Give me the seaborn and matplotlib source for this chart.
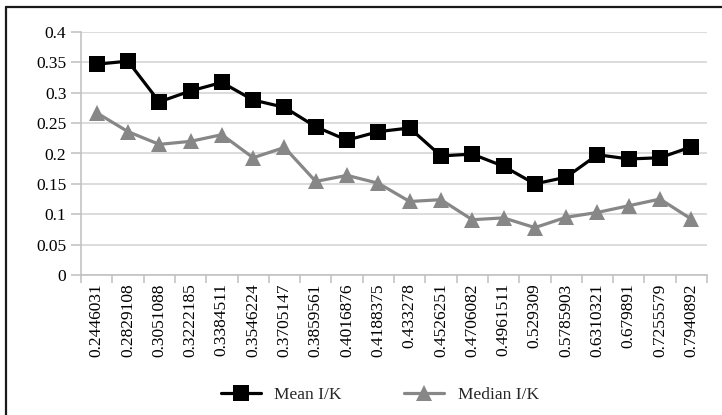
import matplotlib
matplotlib.use("Agg")
import matplotlib.pyplot as plt
from matplotlib.lines import Line2D
import numpy as np
import pandas as pd
import seaborn as sns

# I/K ratio buckets and the two summary series
ratios = ["0.2446031", "0.2829108", "0.3051088", "0.3222185", "0.3384511",
          "0.3546224", "0.3705147", "0.3859561", "0.4016876", "0.4188375",
          "0.433278", "0.4526251", "0.4706082", "0.4961511", "0.529309",
          "0.5785903", "0.6310321", "0.679891", "0.7255579", "0.7940892"]
mean_ik = [0.347, 0.352, 0.285, 0.303, 0.317, 0.288, 0.276, 0.244, 0.222, 0.236,
           0.242, 0.196, 0.199, 0.179, 0.150, 0.161, 0.198, 0.191, 0.193, 0.211]
median_ik = [0.267, 0.236, 0.215, 0.220, 0.231, 0.193, 0.210, 0.154, 0.164, 0.151,
             0.121, 0.124, 0.091, 0.094, 0.078, 0.095, 0.103, 0.114, 0.125, 0.092]
y_ticks = [0, 0.05, 0.1, 0.15, 0.2, 0.25, 0.3, 0.35, 0.4]
y_tick_labels = ["0", "0.05", "0.1", "0.15", "0.2", "0.25", "0.3", "0.35", "0.4"]

sns.set_theme(style="white")
plt.rcParams["font.family"] = ["Liberation Serif", "DejaVu Serif"]

df_mean = pd.DataFrame({"ratio": ratios, "value": mean_ik})
df_median = pd.DataFrame({"ratio": ratios, "value": median_ik})

W, H = 722, 415
fig = plt.figure(figsize=(W / 100, H / 100), dpi=100)
ax = fig.add_axes([81 / W, 1 - 275 / H, 626 / W, 243 / H])

mean_color = "#000000"
median_color = "#878787"
tri_size = 11.5
sq_size = 12

sns.lineplot(data=df_median, x="ratio", y="value", ax=ax, color=median_color,
             marker="^", markersize=tri_size, markeredgecolor=median_color,
             markeredgewidth=0, linewidth=2.3, sort=False)
sns.lineplot(data=df_mean, x="ratio", y="value", ax=ax, color=mean_color,
             marker="s", markersize=sq_size, markeredgecolor=mean_color,
             markeredgewidth=0, linewidth=2.3, sort=False)

ax.set_xlim(-0.5, len(ratios) - 0.5)
ax.set_ylim(0, 0.4)
ax.set_yticks(y_ticks)
ax.set_yticklabels(y_tick_labels)
ax.set_xlabel("")
ax.set_ylabel("")

grid_color = "#d9d9d9"
axis_color = "#bfbfbf"
ax.yaxis.grid(True, color=grid_color, linewidth=1.3)
ax.xaxis.grid(False)
ax.set_axisbelow(True)
for side in ("top", "right"):
    ax.spines[side].set_visible(False)
for side in ("left", "bottom"):
    ax.spines[side].set_color(axis_color)
    ax.spines[side].set_linewidth(1.1)

ax.set_xticks(np.arange(-0.5, len(ratios), 1.0), minor=True)
ax.tick_params(axis="x", which="major", length=0, pad=6, labelsize=12.5,
               labelrotation=90, colors="black")
ax.tick_params(axis="x", which="minor", length=6, width=1.1, color=axis_color,
               direction="out", bottom=True)
ax.tick_params(axis="y", which="major", length=7, width=1.1, color=axis_color,
               direction="out", left=True, pad=3.5, labelsize=12.5,
               labelcolor="black")

handles = [
    Line2D([], [], color=mean_color, marker="s", markersize=sq_size,
           linewidth=2.3, markeredgewidth=0),
    Line2D([], [], color=median_color, marker="^", markersize=tri_size,
           linewidth=2.3, markeredgewidth=0),
]
fig.legend(handles, ["Mean I/K", "Median I/K"], loc="center",
           bbox_to_anchor=(380 / W, 1 - 395 / H), ncol=2, frameon=False,
           fontsize=12.5, handlelength=2.3, handletextpad=0.8,
           columnspacing=3.6)

# frame along the left and top edges
fig.add_artist(Line2D([5.5 / W, 5.5 / W], [0, 1 - 7 / H], color="#1a1a1a",
                      linewidth=1.6, transform=fig.transFigure))
fig.add_artist(Line2D([5.5 / W, 1], [1 - 7 / H, 1 - 7 / H], color="#1a1a1a",
                      linewidth=1.6, transform=fig.transFigure))

fig.savefig("out.png", dpi=100)
